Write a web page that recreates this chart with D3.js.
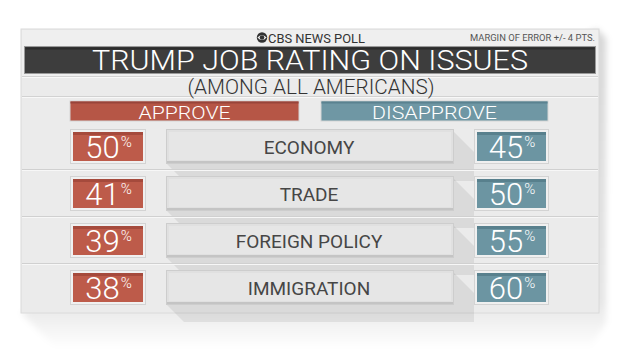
<!DOCTYPE html>
<html>
<head>
<meta charset="utf-8">
<script src="https://cdn.jsdelivr.net/npm/d3@7"></script>
<style>
  body { margin: 0; background: #fff; }
  text { font-family: "Roboto", "Liberation Sans", sans-serif; }
</style>
</head>
<body>
<div id="chart"></div>
<script>
// data
var categories = ["ECONOMY", "TRADE", "FOREIGN POLICY", "IMMIGRATION"];
var approve = [50, 41, 39, 38];
var disapprove = [45, 50, 55, 60];
var headers = ["APPROVE", "DISAPPROVE"];
var title = "TRUMP JOB RATING ON ISSUES";
var subtitle = "(AMONG ALL AMERICANS)";
var brand = "CBS NEWS POLL";
var note = "MARGIN OF ERROR +/- 4 PTS.";

const width = 620, height = 349;
const card = { x0: 21, y0: 29, x1: 599, y1: 313 };

var svg = d3.select("#chart").append("svg")
    .attr("width", width)
    .attr("height", height);

var defs = svg.append("defs");
defs.append("filter").attr("id", "blur")
    .attr("x", "-20%").attr("y", "-20%").attr("width", "140%").attr("height", "140%")
    .append("feGaussianBlur").attr("stdDeviation", 3);

var sg = defs.append("linearGradient").attr("id", "cardShadow")
    .attr("x1", 0).attr("y1", 0).attr("x2", 0).attr("y2", 1);
sg.append("stop").attr("offset", "0%").attr("stop-color", "#000").attr("stop-opacity", 0.16);
sg.append("stop").attr("offset", "85%").attr("stop-color", "#000").attr("stop-opacity", 0.10);
sg.append("stop").attr("offset", "100%").attr("stop-color", "#000").attr("stop-opacity", 0.0);

// long shadow behind the card
svg.append("path")
    .attr("d", d3.line()([[card.x1 - 2, card.y0], [card.x1 + 7, card.y0 + 9], [card.x1 + 7, card.y1 + 10],
        [card.x1 - 10, height], [card.x0 + 36, height], [card.x0, card.y1]]))
    .attr("fill", "url(#cardShadow)")
    .attr("filter", "url(#blur)");

// card
svg.append("rect")
    .attr("x", card.x0).attr("y", card.y0)
    .attr("width", card.x1 - card.x0).attr("height", card.y1 - card.y0)
    .attr("fill", "#ebebeb")
    .attr("stroke", "#dadada");

svg.append("rect")
    .attr("x", card.x0 + 1).attr("y", card.y0 + 1)
    .attr("width", card.x1 - card.x0 - 2).attr("height", 46)
    .attr("fill", "#efefef");

// header: logo + brand
var logo = svg.append("g").attr("transform", "translate(262,37.5)");
logo.append("circle").attr("r", 5.2).attr("fill", "#333");
logo.append("path")
    .attr("d", "M-4.6,0 Q0,-5.2 4.6,0 Q0,5.2 -4.6,0 Z")
    .attr("fill", "#efefef");
logo.append("circle").attr("r", 2.3).attr("fill", "#333");

svg.append("text")
    .attr("x", 268).attr("y", 42.5)
    .attr("font-size", 13.5)
    .attr("fill", "#333")
    .attr("textLength", 97).attr("lengthAdjust", "spacingAndGlyphs")
    .text(brand);

svg.append("text")
    .attr("x", 595).attr("y", 41)
    .attr("text-anchor", "end")
    .attr("font-size", 9.5)
    .attr("fill", "#555")
    .attr("textLength", 125).attr("lengthAdjust", "spacingAndGlyphs")
    .text(note);

// title bar
svg.append("rect")
    .attr("x", 24.5).attr("y", 46.5).attr("width", 571).attr("height", 27)
    .attr("fill", "#3d3d3d").attr("stroke", "#9a9a9a");
svg.append("rect")
    .attr("x", 25.5).attr("y", 47.5).attr("width", 569).attr("height", 2)
    .attr("fill", "#2c2c2c");

svg.append("text")
    .attr("x", 310).attr("y", 70)
    .attr("text-anchor", "middle")
    .attr("font-size", 27).attr("font-weight", 300)
    .attr("fill", "#fff")
    .attr("textLength", 436).attr("lengthAdjust", "spacingAndGlyphs")
    .text(title);

// thin separator lines in header
[76, 96].forEach(function(y) {
    svg.append("line")
        .attr("x1", card.x0 + 1).attr("x2", card.x1 - 1)
        .attr("y1", y + 0.5).attr("y2", y + 0.5)
        .attr("stroke", "#d2d2d2");
    svg.append("line")
        .attr("x1", card.x0 + 1).attr("x2", card.x1 - 1)
        .attr("y1", y + 1.5).attr("y2", y + 1.5)
        .attr("stroke", "#f8f8f8");
});

svg.append("text")
    .attr("x", 311).attr("y", 93.5)
    .attr("text-anchor", "middle")
    .attr("font-size", 19.5).attr("font-weight", 300)
    .attr("fill", "#333")
    .attr("textLength", 247).attr("lengthAdjust", "spacingAndGlyphs")
    .text(subtitle);

// column layout
var colX = d3.scaleOrdinal()
    .domain(["approve", "label", "disapprove"])
    .range([[70, 145], [166, 453], [474, 548]]);
var headerX = d3.scaleOrdinal().domain(headers).range([[70, 299], [321, 548]]);
var headerFill = d3.scaleOrdinal().domain(headers).range(["#b65646", "#6f97a4"]);
var headerEdge = d3.scaleOrdinal().domain(headers).range(["#98443a", "#5a8290"]);

var hg = svg.selectAll("g.header")
    .data(headers)
    .enter().append("g")
    .attr("class", "header");

hg.append("rect")
    .attr("x", d => headerX(d)[0]).attr("y", 101)
    .attr("width", d => headerX(d)[1] - headerX(d)[0]).attr("height", 20)
    .attr("fill", d => headerFill(d))
    .attr("stroke", "#d5d5d5");
hg.append("rect")
    .attr("x", d => headerX(d)[0] + 0.5).attr("y", 101.5)
    .attr("width", d => headerX(d)[1] - headerX(d)[0] - 1).attr("height", 2)
    .attr("fill", d => headerEdge(d));
hg.append("text")
    .attr("x", d => (headerX(d)[0] + headerX(d)[1]) / 2)
    .attr("y", 119)
    .attr("text-anchor", "middle")
    .attr("font-size", 19).attr("font-weight", 300)
    .attr("fill", "#fff")
    .attr("textLength", (d, i) => i == 0 ? 92 : 125).attr("lengthAdjust", "spacingAndGlyphs")
    .text(d => d);

// rows
var y = d3.scaleBand()
    .domain(categories)
    .range([123, 311]);

var rows = svg.selectAll("g.row")
    .data(categories)
    .enter().append("g")
    .attr("class", "row")
    .attr("transform", d => `translate(0, ${y(d)})`);

// row separators
rows.filter((d, i) => i > 0).append("line")
    .attr("x1", card.x0 + 1).attr("x2", card.x1 - 1)
    .attr("y1", -0.5).attr("y2", -0.5)
    .attr("stroke", "#d0d0d0");
rows.filter((d, i) => i > 0).append("line")
    .attr("x1", card.x0 + 1).attr("x2", card.x1 - 1)
    .attr("y1", 0.5).attr("y2", 0.5)
    .attr("stroke", "#f7f7f7");

const boxTop = 6, boxBottom = 40, L = 18;

// long shadow of the label box, clipped at the right column
rows.append("path")
    .attr("d", function() {
        var lx = colX("label"), rx = colX("disapprove")[0];
        return d3.line()([[lx[1], boxTop + 2], [rx, boxTop + 2 + (rx - lx[1])], [rx, boxBottom + L],
            [lx[0] + L, boxBottom + L], [lx[0], boxBottom]]);
    })
    .attr("fill", "#000")
    .attr("fill-opacity", 0.07);

// label box
rows.append("rect")
    .attr("x", colX("label")[0] + 0.5).attr("y", boxTop + 0.5)
    .attr("width", colX("label")[1] - colX("label")[0]).attr("height", boxBottom - boxTop)
    .attr("fill", "#e0e0e0")
    .attr("stroke", "#cdcdcd");
rows.append("rect")
    .attr("x", colX("label")[0] + 3).attr("y", boxTop + 3)
    .attr("width", colX("label")[1] - colX("label")[0] - 5).attr("height", boxBottom - boxTop - 6)
    .attr("fill", "#e6e6e6");
rows.append("line")
    .attr("x1", colX("label")[0] + 1).attr("x2", colX("label")[1])
    .attr("y1", boxBottom - 1).attr("y2", boxBottom - 1)
    .attr("stroke", "#c4c4c4").attr("stroke-width", 2);

rows.append("text")
    .attr("x", d => (colX("label")[0] + colX("label")[1]) / 2 - 0.5)
    .attr("y", 30.5)
    .attr("text-anchor", "middle")
    .attr("font-size", 19)
    .attr("fill", "#464646")
    .text(d => d);

// value boxes
function valueBox(key, values, fill, edge) {
    var cx = colX(key);
    rows.append("rect")
        .attr("x", cx[0] + 0.5).attr("y", boxTop + 0.5)
        .attr("width", cx[1] - cx[0]).attr("height", boxBottom - boxTop)
        .attr("fill", "#f0f0f0")
        .attr("stroke", "#d3d3d3");
    rows.append("rect")
        .attr("x", cx[0] + 3).attr("y", boxTop + 3)
        .attr("width", cx[1] - cx[0] - 5).attr("height", boxBottom - boxTop - 5)
        .attr("fill", fill);
    rows.append("rect")
        .attr("x", cx[0] + 3).attr("y", boxTop + 3)
        .attr("width", cx[1] - cx[0] - 5).attr("height", 3)
        .attr("fill", edge);
    var t = rows.append("text")
        .attr("x", (cx[0] + cx[1]) / 2 + 1)
        .attr("y", 35)
        .attr("text-anchor", "middle")
        .attr("fill", "#fff")
        .attr("font-weight", 300);
    t.append("tspan")
        .attr("font-size", 31)
        .text((d, i) => values[i]);
    t.append("tspan")
        .attr("font-size", 15)
        .attr("dx", 1)
        .attr("dy", -11)
        .text("%");
}

valueBox("approve", approve, "#bd5b4a", "#a54a3c");
valueBox("disapprove", disapprove, "#6c95a2", "#58808d");
</script>
</body>
</html>
